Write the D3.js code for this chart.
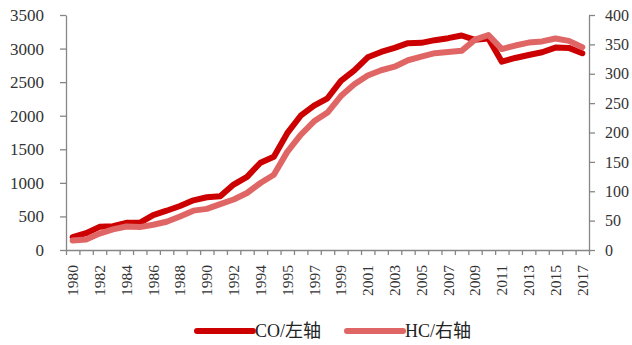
<!DOCTYPE html>
<html>
<head>
<meta charset="utf-8">
<script src="https://cdn.jsdelivr.net/npm/d3@7"></script>
<style>
  html, body { margin: 0; padding: 0; background: #fff; }
  svg { display: block; }
  .axis path, .axis line { stroke: #868686; stroke-width: 1.3; }
  .axis text { font-family: "Liberation Serif", "Times New Roman", serif; fill: #333; }
</style>
</head>
<body>
<svg id="chart" width="632" height="345"></svg>
<script>
// Year categories (one year appears twice in the source series)
const categories = [
  "1980","1981","1982","1983","1984","1985","1986","1987","1988","1989",
  "1990","1991","1992","1993","1994","1994","1995","1996","1997","1998",
  "1999","2000","2001","2002","2003","2004","2005","2006","2007","2008",
  "2009","2010","2011","2012","2013","2014","2015","2016","2017"
];

// CO emissions, left axis
const coValues = [
  190, 250, 345, 355, 405, 405, 520, 585, 655, 740,
  785, 800, 975, 1090, 1300, 1390, 1740, 2000, 2150, 2260,
  2520, 2675, 2870, 2950, 3010, 3080, 3085, 3125, 3155, 3195,
  3130, 3150, 2805, 2860, 2905, 2945, 3015, 3010, 2930
];

// HC emissions, right axis
const hcValues = [
  16, 18, 28, 35, 40, 39, 43, 48, 57, 67,
  70, 78, 86, 97, 114, 128, 167, 196, 219, 234,
  262, 282, 297, 306, 312, 323, 329, 335, 337, 339,
  358, 366, 342, 348, 353, 355, 360, 356, 345
];

const leftTicks = [0, 500, 1000, 1500, 2000, 2500, 3000, 3500];
const rightTicks = [0, 50, 100, 150, 200, 250, 300, 350, 400];
const seriesNames = ["CO/左轴", "HC/右轴"];
const seriesColors = ["#cc0000", "#e06666"];

const svg = d3.select("#chart");
const plot = { left: 66, right: 589, top: 15, bottom: 250 };
const fmt = d3.format("d");

const idx = d3.range(categories.length);
const x = d3.scaleBand().domain(idx).range([plot.left, plot.right]).padding(0);
const xEdges = d3.scaleLinear().domain([0, categories.length]).range([plot.left, plot.right]);
const yL = d3.scaleLinear().domain([0, 3500]).range([plot.bottom, plot.top]);
const yR = d3.scaleLinear().domain([0, 400]).range([plot.bottom, plot.top]);

// Left axis
svg.append("g").attr("class", "axis")
  .attr("transform", `translate(${plot.left},0)`)
  .call(d3.axisLeft(yL).tickValues(leftTicks).tickFormat(fmt)
    .tickSize(6).tickPadding(16).tickSizeOuter(0))
  .selectAll("text").style("font-size", "17px");

// Right axis
svg.append("g").attr("class", "axis")
  .attr("transform", `translate(${plot.right},0)`)
  .call(d3.axisRight(yR).tickValues(rightTicks).tickFormat(fmt)
    .tickSize(6).tickPadding(10).tickSizeOuter(0))
  .selectAll("text").style("font-size", "16px");

// Bottom axis: tick marks on category boundaries
svg.append("g").attr("class", "axis")
  .attr("transform", `translate(0,${plot.bottom})`)
  .call(d3.axisBottom(xEdges).tickValues(d3.range(categories.length + 1))
    .tickFormat("").tickSize(5).tickSizeOuter(0));

// Bottom axis labels: every other year, rotated
svg.append("g").attr("class", "axis")
  .attr("transform", `translate(0,${plot.bottom})`)
  .call(d3.axisBottom(x).tickValues(idx.filter(i => i % 2 === 0))
    .tickFormat(i => categories[i]).tickSize(0).tickPadding(0))
  .call(g => g.select(".domain").remove())
  .selectAll("text")
    .style("font-size", "15.5px")
    .attr("text-anchor", "end")
    .attr("transform", "rotate(-90)")
    .attr("x", -15)
    .attr("y", 0)
    .attr("dy", "0.35em");

const cx = i => x(i) + x.bandwidth() / 2;

const lineCO = d3.line().x((d, i) => cx(i)).y(d => yL(d));
const lineHC = d3.line().x((d, i) => cx(i)).y(d => yR(d));

svg.append("path")
  .datum(coValues)
  .attr("d", lineCO)
  .attr("fill", "none")
  .attr("stroke", seriesColors[0])
  .attr("stroke-width", 6)
  .attr("stroke-linejoin", "round")
  .attr("stroke-linecap", "round");

svg.append("path")
  .datum(hcValues)
  .attr("d", lineHC)
  .attr("fill", "none")
  .attr("stroke", seriesColors[1])
  .attr("stroke-width", 6)
  .attr("stroke-linejoin", "round")
  .attr("stroke-linecap", "round");

// Legend
const legendY = 331;
const legendItems = [
  { x: 197, name: seriesNames[0], color: seriesColors[0] },
  { x: 347, name: seriesNames[1], color: seriesColors[1] }
];
const lg = svg.append("g");
legendItems.forEach(item => {
  lg.append("line")
    .attr("x1", item.x).attr("x2", item.x + 56)
    .attr("y1", legendY).attr("y2", legendY)
    .attr("stroke", item.color).attr("stroke-width", 6)
    .attr("stroke-linecap", "round");
  lg.append("text")
    .attr("x", item.x + 58).attr("y", legendY)
    .attr("dy", "0.35em")
    .style("font-family", "'Liberation Serif', 'Noto Sans CJK SC', serif")
    .style("font-size", "18px")
    .style("fill", "#222")
    .text(item.name);
});
</script>
</body>
</html>
